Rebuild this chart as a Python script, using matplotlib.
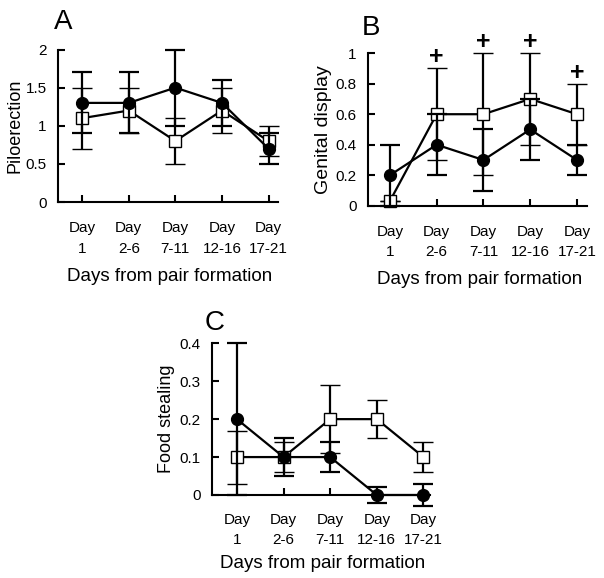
import matplotlib
matplotlib.use("Agg")
import matplotlib.pyplot as plt

plt.rcParams['font.family'] = ['Liberation Sans', 'DejaVu Sans']

day_labels = ["Day\n1", "Day\n2-6", "Day\n7-11", "Day\n12-16", "Day\n17-21"]

# A: piloerection
pilo_filled = [1.3, 1.3, 1.5, 1.3, 0.7]
pilo_filled_err = [0.4, 0.4, 0.5, 0.3, 0.2]
pilo_open = [1.1, 1.2, 0.8, 1.2, 0.8]
pilo_open_err = [0.4, 0.3, 0.3, 0.3, 0.2]

# B: genital display
gen_filled = [0.2, 0.4, 0.3, 0.5, 0.3]
gen_filled_err = [0.2, 0.2, 0.2, 0.2, 0.1]
gen_open = [0.03, 0.6, 0.6, 0.7, 0.6]
gen_open_err = [0.0, 0.3, 0.4, 0.3, 0.2]
gen_sig = [1, 2, 3, 4]  # days marked with "+"

# C: food stealing
food_filled = [0.2, 0.1, 0.1, 0.0, 0.0]
food_filled_err = [0.2, 0.05, 0.04, 0.02, 0.03]
food_open = [0.1, 0.1, 0.2, 0.2, 0.1]
food_open_err = [0.07, 0.04, 0.09, 0.05, 0.04]

fig = plt.figure(figsize=(6.04, 5.78), dpi=100)


def panel(rect, letter, filled, ferr, opn, oerr, ylim, yticks, yticklabels, ylabel, ylabel_size,
          xlim, xpad, ylab_x, xlab_y, letter_x, letter_dy):
    ax = fig.add_axes(rect)
    x = list(range(len(day_labels)))
    # squares first so the circles sit on top
    ax.errorbar(x, opn, yerr=oerr, color="black", lw=1.6, capsize=7, capthick=1.6,
                marker="s", ms=8, mfc="white", mec="black", mew=1.0, zorder=3)
    ax.errorbar(x, filled, yerr=ferr, color="black", lw=1.6, capsize=7, capthick=1.6,
                marker="o", ms=8.5, mfc="black", mec="black", zorder=4)
    for line in ax.lines:
        line.set_clip_on(False)
    for coll in ax.collections:
        coll.set_clip_on(False)
    ax.set_xlim(*xlim)
    ax.set_ylim(*ylim)
    ax.set_xticks(x)
    ax.set_xticklabels(day_labels, fontsize=11, linespacing=1.55)
    ax.set_yticks(yticks)
    ax.set_yticklabels(yticklabels, fontsize=11)
    ax.tick_params(direction="in", length=5, width=1.5)
    ax.tick_params(axis="x", pad=xpad)
    ax.tick_params(axis="y", pad=8)
    ax.spines["top"].set_visible(False)
    ax.spines["right"].set_visible(False)
    for s in ("left", "bottom"):
        ax.spines[s].set_linewidth(1.5)
    ax.set_ylabel(ylabel, fontsize=ylabel_size)
    ax.yaxis.set_label_coords(ylab_x, 0.5)
    ax.set_xlabel("Days from pair formation", fontsize=13.5)
    ax.xaxis.set_label_coords(0.51, xlab_y)
    ax.annotate(letter, (letter_x, ylim[1]), xytext=(0, letter_dy), textcoords="offset points",
                fontsize=20, ha="left", va="baseline", annotation_clip=False)
    return ax


panel([0.096, 0.6505, 0.364, 0.2638], "A", pilo_filled, pilo_filled_err, pilo_open, pilo_open_err,
      (0, 2), [0, 0.5, 1, 1.5, 2], ["0", "0.5", "1", "1.5", "2"], "Piloerection", 13,
      (-0.52, 4.2), 14, -0.155, -0.433, -0.6, 14.5)

axb = panel([0.609, 0.644, 0.3626, 0.264], "B", gen_filled, gen_filled_err, gen_open, gen_open_err,
            (0, 1), [0, 0.2, 0.4, 0.6, 0.8, 1], ["0", "0.2", "0.4", "0.6", "0.8", "1"],
            "Genital display", 14, (-0.47, 4.21), 13.5, -0.164, -0.426, -0.6, 13)
for i in gen_sig:
    axb.annotate("+", (i, gen_open[i] + gen_open_err[i]), xytext=(0, 8), textcoords="offset points",
                 ha="center", va="center", fontsize=18, fontweight="bold", annotation_clip=False)

panel([0.3505, 0.1436, 0.3614, 0.2625], "C", food_filled, food_filled_err, food_open, food_open_err,
      (0, 0.4), [0, 0.1, 0.2, 0.3, 0.4], ["0", "0.1", "0.2", "0.3", "0.4"],
      "Food stealing", 13, (-0.54, 4.14), 13, -0.168, -0.396, -0.7, 9.5)

fig.savefig("out.png", dpi=100)
